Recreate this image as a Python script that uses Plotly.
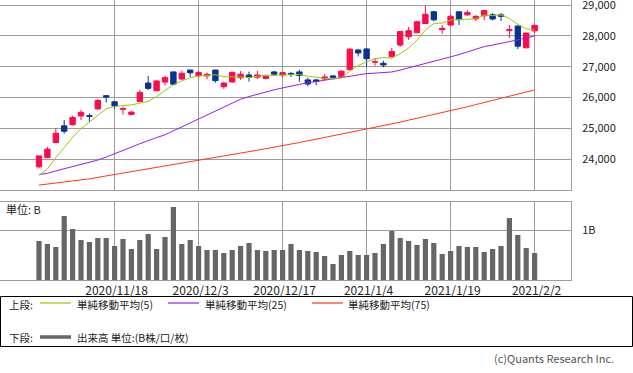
import plotly.graph_objects as go

# ---------------- data ----------------
dates = ["2020/11/5", "2020/11/6", "2020/11/9", "2020/11/10", "2020/11/11", "2020/11/12",
         "2020/11/13", "2020/11/16", "2020/11/17", "2020/11/18", "2020/11/19", "2020/11/20",
         "2020/11/24", "2020/11/25", "2020/11/26", "2020/11/27", "2020/11/30", "2020/12/1",
         "2020/12/2", "2020/12/3", "2020/12/4", "2020/12/7", "2020/12/8", "2020/12/9",
         "2020/12/10", "2020/12/11", "2020/12/14", "2020/12/15", "2020/12/16", "2020/12/17",
         "2020/12/18", "2020/12/21", "2020/12/22", "2020/12/23", "2020/12/24", "2020/12/25",
         "2020/12/28", "2020/12/29", "2020/12/30", "2021/1/4", "2021/1/5", "2021/1/6",
         "2021/1/7", "2021/1/8", "2021/1/12", "2021/1/13", "2021/1/14", "2021/1/15",
         "2021/1/18", "2021/1/19", "2021/1/20", "2021/1/21", "2021/1/22", "2021/1/25",
         "2021/1/26", "2021/1/27", "2021/1/28", "2021/1/29", "2021/2/1", "2021/2/2"]

open_ = [23750, 24050, 24540, 25080, 25120, 25400, 25410, 25630, 26060, 25860,
         25620, 25450, 25870, 26470, 26220, 26500, 26830, 26600, 26890, 26710,
         26700, 26890, 26350, 26505, 26640, 26730, 26660, 26620, 26830, 26730,
         26780, 26830, 26570, 26570, 26600, 26700, 26670, 26900, 27540, 27575,
         27150, 27110, 27320, 27700, 27970, 28100, 28400, 28780, 28200, 28350,
         28780, 28680, 28550, 28650, 28680, 28680, 28170, 28320, 27610, 28160]
high = [24110, 24400, 24990, 25270, 25410, 25600, 25480, 25950, 26070, 25880,
        25700, 25560, 26250, 26700, 26560, 26700, 26840, 26870, 26900, 26860,
        26810, 26900, 26510, 26840, 26860, 26840, 26860, 26720, 26860, 26830,
        26830, 26900, 26640, 26600, 26760, 26720, 26880, 27600, 27575, 27600,
        27280, 27190, 27610, 28140, 28290, 28490, 28970, 28810, 28350, 28700,
        28790, 28840, 28670, 28830, 28740, 28740, 28350, 28330, 28100, 28360]
low = [23720, 24030, 24520, 24830, 25090, 25270, 25210, 25600, 25840, 25640,
       25450, 25420, 25860, 26240, 26220, 26390, 26400, 26570, 26670, 26650,
       26590, 26480, 26280, 26480, 26570, 26515, 26600, 26590, 26700, 26650,
       26670, 26510, 26360, 26400, 26570, 26620, 26640, 26890, 27330, 27000,
       27030, 26980, 27300, 27640, 27870, 28090, 28380, 28470, 28060, 28330,
       28350, 28650, 28480, 28510, 28500, 28480, 27930, 27570, 27600, 28090]
close = [24105, 24325, 24839, 24905, 25349, 25520, 25385, 25906, 26014, 25728,
         25634, 25527, 26165, 26296, 26537, 26644, 26433, 26787, 26800, 26809,
         26751, 26547, 26467, 26817, 26756, 26652, 26732, 26687, 26757, 26806,
         26763, 26714, 26436, 26524, 26668, 26656, 26854, 27568, 27444, 27258,
         27158, 27055, 27490, 28139, 28164, 28456, 28698, 28519, 28242, 28633,
         28523, 28756, 28631, 28822, 28546, 28635, 28197, 27663, 28091, 28340]

ma5 = [23481, 23679, 24052, 24374, 24705, 24988, 25200, 25413, 25635, 25711,
       25733, 25762, 25814, 25870, 26032, 26234, 26415, 26539, 26640, 26695,
       26716, 26739, 26675, 26678, 26668, 26648, 26685, 26729, 26717, 26727,
       26749, 26745, 26695, 26649, 26621, 26600, 26628, 26854, 27038, 27156,
       27256, 27297, 27281, 27420, 27601, 27861, 28189, 28395, 28416, 28510,
       28523, 28535, 28557, 28673, 28656, 28678, 28566, 28373, 28226, 28190]
ma25 = [23500, 23540, 23620, 23690, 23760, 23830, 23900, 23970, 24070, 24170,
        24280, 24390, 24500, 24610, 24700, 24790, 24920, 25040, 25170, 25306,
        25440, 25580, 25710, 25830, 25945, 26030, 26110, 26180, 26250, 26311,
        26375, 26425, 26475, 26520, 26560, 26600, 26650, 26700, 26740, 26775,
        26790, 26810, 26829, 26890, 26960, 27030, 27100, 27170, 27240, 27305,
        27390, 27480, 27570, 27650, 27700, 27750, 27810, 27870, 27930, 27996]
ma75 = [23160, 23190, 23225, 23255, 23290, 23320, 23360, 23410, 23455, 23500,
        23545, 23590, 23640, 23690, 23735, 23784, 23830, 23875, 23920, 23968,
        24015, 24060, 24105, 24150, 24195, 24245, 24290, 24340, 24385, 24432,
        24485, 24540, 24595, 24649, 24700, 24750, 24800, 24855, 24905, 24960,
        25020, 25080, 25140, 25200, 25265, 25325, 25385, 25445, 25505, 25566,
        25635, 25700, 25770, 25835, 25905, 25970, 26040, 26110, 26175, 26246]

volume_b = [0.785, 0.725, 0.664, 1.289, 1.027, 0.805, 0.765, 0.846, 0.846, 0.685,
            0.826, 0.624, 0.805, 0.926, 0.624, 0.866, 1.470, 0.725, 0.805, 0.685,
            0.604, 0.604, 0.544, 0.604, 0.685, 0.745, 0.604, 0.584, 0.604, 0.604,
            0.725, 0.604, 0.584, 0.564, 0.483, 0.322, 0.503, 0.584, 0.503, 0.503,
            0.544, 0.725, 0.987, 0.846, 0.785, 0.705, 0.826, 0.745, 0.523, 0.584,
            0.685, 0.664, 0.664, 0.564, 0.624, 0.685, 1.248, 0.906, 0.644, 0.544]

date_ticks = ["2020/11/18", "2020/12/3", "2020/12/17", "2021/1/4", "2021/1/19", "2021/2/2"]
price_ticks = [24000, 25000, 26000, 27000, 28000, 29000]
price_tick_text = ["24,000", "25,000", "26,000", "27,000", "28,000", "29,000"]
volume_ticks = [1]
volume_tick_text = ["1B"]

legend_upper = ["単純移動平均(5)", "単純移動平均(25)", "単純移動平均(75)"]
legend_lower = "出来高 単位:(B株/口/枚)"

# ---------------- styling / layout ----------------
W, H = 633, 373
FONT = "Noto Sans CJK JP"
RED = "#FF0A4B"
BLUE = "#0A3296"
C5, C25, C75 = "#99CC00", "#9B1AF0", "#FF3A0A"
GRID = "#9C9C9C"
TXT = "#222222"


def px(x):
    return x / W


def py(y):
    return 1 - y / H


x_left = -39 / 8.4
x_right = x_left + 571 / 8.4

fig = go.Figure()
fig.add_trace(go.Candlestick(
    x=dates, open=open_, high=high, low=low, close=close,
    increasing=dict(line=dict(color=RED, width=1), fillcolor=RED),
    decreasing=dict(line=dict(color=BLUE, width=1), fillcolor=BLUE),
    whiskerwidth=0, showlegend=False, xaxis="x", yaxis="y"))
for vals, col in ((ma75, C75), (ma25, C25), (ma5, C5)):
    fig.add_trace(go.Scatter(x=dates, y=vals, mode="lines",
                             line=dict(color=col, width=1), showlegend=False,
                             xaxis="x", yaxis="y"))
fig.add_trace(go.Bar(x=dates, y=volume_b, marker=dict(color="#666666", line=dict(width=0)),
                     width=0.62, showlegend=False, xaxis="x2", yaxis="y2"))

axis_common = dict(showline=True, linecolor=GRID, linewidth=1, mirror=True,
                   showgrid=True, gridcolor=GRID, gridwidth=1, zeroline=False,
                   automargin=False, ticklabeloverflow="allow")

fig.update_layout(
    width=W, height=H,
    margin=dict(l=0, r=0, t=0, b=0, autoexpand=False),
    paper_bgcolor="white", plot_bgcolor="white",
    boxgap=0.36, boxgroupgap=0,
    showlegend=False,
    font=dict(family=FONT, size=11, color=TXT),
    xaxis=dict(domain=[0, px(571)], anchor="y", type="category",
               range=[x_left, x_right], tickvals=date_ticks, ticktext=date_ticks,
               showticklabels=False, ticks="", rangeslider=dict(visible=False),
               **axis_common),
    yaxis=dict(domain=[py(190), 1], anchor="x", side="right",
               range=[23000, 29162], tickvals=price_ticks, ticktext=price_tick_text,
               ticks="outside", ticklen=8, tickcolor="rgba(0,0,0,0)",
               tickfont=dict(family=FONT, size=11, color=TXT),
               **axis_common),
    xaxis2=dict(domain=[0, px(571)], anchor="y2", type="category",
                range=[x_left, x_right], tickvals=date_ticks, ticktext=date_ticks,
                ticks="", ticklabelshift=2,
                tickfont=dict(family=FONT, size=12, color=TXT),
                **axis_common),
    yaxis2=dict(domain=[py(280), py(201.5)], anchor="x2", side="right",
                range=[0, 1.58], tickvals=volume_ticks, ticktext=volume_tick_text,
                ticks="outside", ticklen=8, tickcolor="rgba(0,0,0,0)",
                tickfont=dict(family=FONT, size=11, color=TXT),
                **axis_common),
)

ann = []


def text(x, y, s, anchor="left", color=TXT, size=10.5):
    ann.append(dict(x=px(x), y=py(y), xref="paper", yref="paper", text=s,
                    showarrow=False, xanchor=anchor, yanchor="middle", borderpad=0,
                    font=dict(family=FONT, size=size, color=color)))


text(5, 209, "単位: B", size=11)
text(8, 304, "上段:")
text(76, 304, legend_upper[0])
text(204, 304, legend_upper[1])
text(347, 304, legend_upper[2])
text(8, 337, "下段:")
text(76, 337, legend_lower)
text(615, 358, "(c)Quants Research Inc.", anchor="right", color="#555555", size=11)
fig.update_layout(annotations=ann)

shapes = [
    dict(type="rect", xref="paper", yref="paper", x0=px(0.5), x1=px(632.5),
         y0=py(346.5), y1=py(296.5), line=dict(color="black", width=1)),
]
for (x0, x1, y, col, w) in ((40, 71, 303, C5, 1.2), (168, 199, 303, C25, 1.2),
                            (312, 343, 303, C75, 1.2), (40, 71, 337, "#666666", 3.5)):
    shapes.append(dict(type="line", xref="paper", yref="paper", x0=px(x0), x1=px(x1),
                       y0=py(y), y1=py(y), line=dict(color=col, width=w)))
fig.update_layout(shapes=shapes)

fig.write_html("out.html", config={"displayModeBar": False},
               post_script="document.body.style.margin='0';document.body.style.overflow='hidden';")
